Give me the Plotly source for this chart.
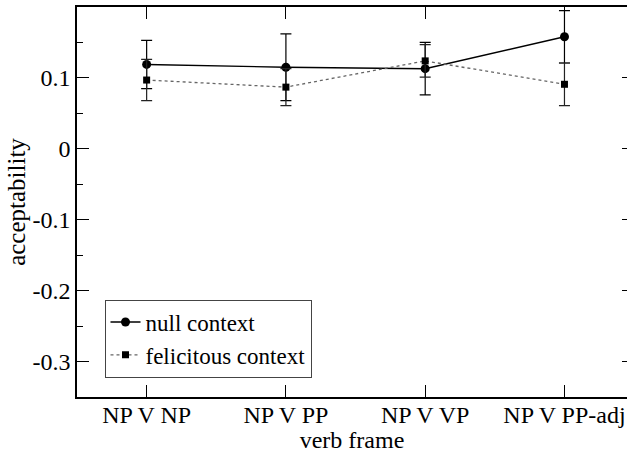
import plotly.graph_objects as go

frames = ["NP V NP", "NP V PP", "NP V VP", "NP V PP-adj"]
null_mean = [0.119, 0.115, 0.113, 0.158]
null_err = [0.034, 0.047, 0.037, 0.037]
fel_mean = [0.097, 0.087, 0.124, 0.091]
fel_err = [0.029, 0.026, 0.023, 0.030]
y_tickvals = [0.1, 0, -0.1, -0.2, -0.3]
y_ticktext = ["0.1", "0", "-0.1", "-0.2", "-0.3"]
y_minor = [0.15, 0.05, -0.05, -0.15, -0.25]

FONT = "Liberation Serif, Times New Roman, serif"

fig = go.Figure()
fig.add_trace(go.Scatter(
    x=frames, y=null_mean, name="null context", mode="lines+markers",
    line=dict(color="black", width=1.4),
    marker=dict(symbol="circle", size=9, color="black"),
    error_y=dict(type="data", array=null_err, color="black", thickness=1.2, width=5.5),
))
fig.add_trace(go.Scatter(
    x=frames, y=fel_mean, name="felicitous context", mode="lines+markers",
    line=dict(color="#666666", width=1.3, dash="dot"),
    marker=dict(symbol="square", size=7, color="black"),
    error_y=dict(type="data", array=fel_err, color="#222222", thickness=1.2, width=5.5),
))
fig.add_trace(go.Scatter(x=[None], y=[None], yaxis="y2", showlegend=False, hoverinfo="skip"))

fig.update_layout(
    width=627, height=453,
    margin=dict(l=77, r=0, t=7, b=56),
    paper_bgcolor="white", plot_bgcolor="white",
    font=dict(family=FONT, size=24, color="black"),
    showlegend=True,
    legend=dict(x=0.05, y=0.15, xanchor="left", yanchor="middle",
                bordercolor="#444444", borderwidth=1, bgcolor="white",
                font=dict(family=FONT, size=23, color="black"), itemwidth=30,
                tracegroupgap=0),
    xaxis=dict(
        type="category", range=[-0.5, 3.449],
        showline=True, linecolor="black", linewidth=1.5, mirror="ticks",
        ticks="inside", ticklen=12, tickwidth=1.2, tickcolor="black",
        showgrid=False, zeroline=False, ticklabelstandoff=-5,
        tickfont=dict(family=FONT, size=24, color="black"),
        title=dict(text="verb frame", font=dict(family=FONT, size=24, color="black"), standoff=4),
    ),
    yaxis=dict(
        range=[-0.35, 0.2],
        tickmode="array", tickvals=y_tickvals, ticktext=y_ticktext,
        showline=True, linecolor="black", linewidth=1.5, mirror=False,
        ticks="inside", ticklen=12, tickwidth=1.2, tickcolor="black",
        minor=dict(tickmode="array", tickvals=y_minor, ticks="inside", ticklen=6,
                   tickwidth=1.2, tickcolor="black", showgrid=False),
        showgrid=False, zeroline=False,
        tickfont=dict(family=FONT, size=24, color="black"),
        title=dict(text="acceptability", font=dict(family=FONT, size=25, color="black"), standoff=0),
    ),
    yaxis2=dict(
        overlaying="y", side="right", range=[-0.35, 0.2],
        tickmode="array", tickvals=y_tickvals, showticklabels=False,
        ticks="inside", ticklen=5, tickwidth=1.2, tickcolor="black",
        showline=False, showgrid=False, zeroline=False,
    ),
)

fig.write_html("out.html")
